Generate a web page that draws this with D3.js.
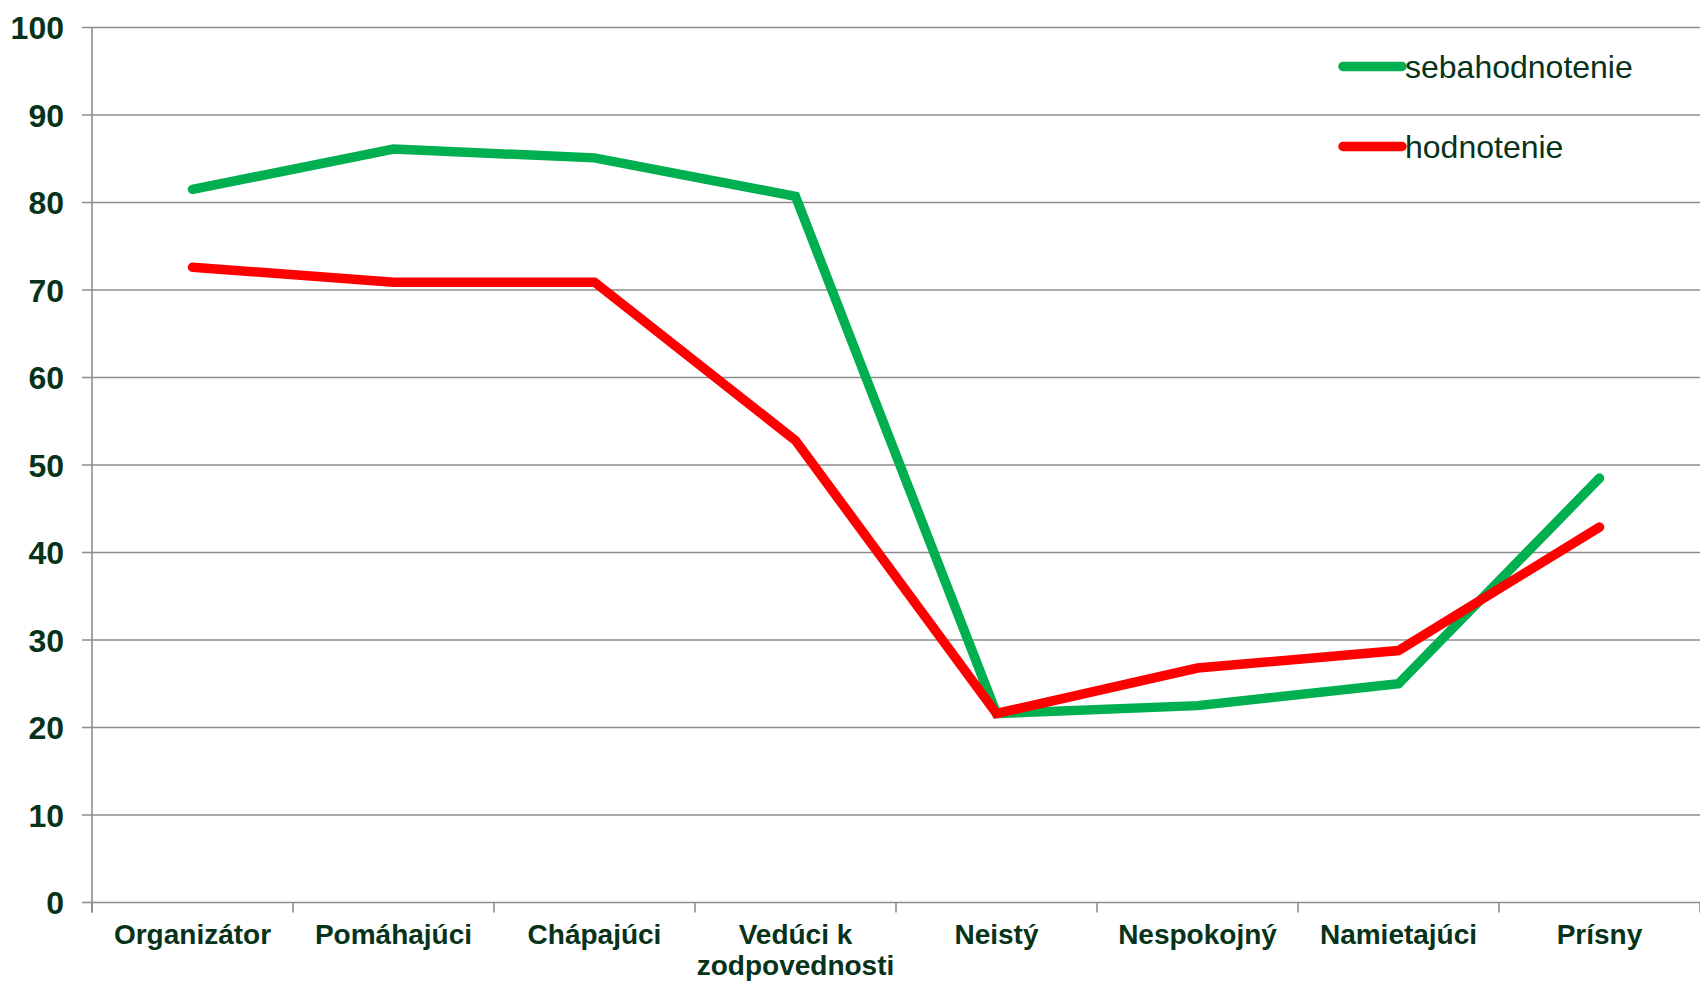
<!DOCTYPE html>
<html>
<head>
<meta charset="utf-8">
<script src="https://cdn.jsdelivr.net/npm/d3@7"></script>
<style>
  html, body { margin: 0; padding: 0; background: #fff; }
  svg { display: block; }
  text { font-family: "Liberation Sans", Arial, sans-serif; }
</style>
</head>
<body>
<svg id="chart" width="1700" height="983"></svg>
<script>
const categories = ["Organizátor", "Pomáhajúci", "Chápajúci", "Vedúci k zodpovednosti", "Neistý", "Nespokojný", "Namietajúci", "Prísny"];
const sebahodnotenie = [81.5, 86.1, 85.1, 80.7, 21.6, 22.5, 25.0, 48.5];
const hodnotenie = [72.6, 70.9, 70.9, 52.8, 21.6, 26.8, 28.8, 42.9];
const yTicks = [0, 10, 20, 30, 40, 50, 60, 70, 80, 90, 100];
const seriesNames = ["sebahodnotenie", "hodnotenie"];
const seriesColors = ["#00b050", "#ff0000"];

(function () {
const textColor = "#06331a";
const gridColor = "#8c8c8c";

const svg = d3.select("#chart");
const pLeft = 92, pRight = 1700, pTop = 27.5, pBottom = 902.5;

const x = d3.scaleBand().domain(categories).range([pLeft, pRight]).padding(0);
const y = d3.scaleLinear().domain([0, 100]).range([pBottom, pTop]);

// gridlines
svg.append("g").selectAll("line").data(yTicks).join("line")
  .attr("x1", pLeft - 10).attr("x2", pRight)
  .attr("y1", d => y(d)).attr("y2", d => y(d))
  .attr("stroke", gridColor).attr("stroke-width", 1.6);

// y axis line
svg.append("line").attr("x1", pLeft).attr("x2", pLeft).attr("y1", pTop).attr("y2", pBottom + 10)
  .attr("stroke", gridColor).attr("stroke-width", 1.6);

// x ticks
const xTickPos = categories.map(c => x(c)).concat([pRight]);
svg.append("g").selectAll("line").data(xTickPos).join("line")
  .attr("x1", d => d).attr("x2", d => d).attr("y1", pBottom).attr("y2", pBottom + 10)
  .attr("stroke", gridColor).attr("stroke-width", 1.6);

// y labels
svg.append("g").selectAll("text").data(yTicks).join("text")
  .attr("x", 64).attr("y", d => y(d)).attr("dy", "0.36em")
  .attr("text-anchor", "end")
  .attr("font-size", 32).attr("font-weight", "bold").attr("fill", textColor)
  .text(d => d);

// x labels with wrapping
const xl = svg.append("g").selectAll("text").data(categories).join("text")
  .attr("x", d => x(d) + x.bandwidth() / 2).attr("y", 944)
  .attr("text-anchor", "middle")
  .attr("font-size", 28).attr("font-weight", "bold").attr("fill", textColor);
xl.each(function (d) {
  const t = d3.select(this);
  const words = d.split(" ");
  const lines = [];
  let cur = [];
  const maxW = x.bandwidth() - 10;
  const probe = t.append("tspan");
  words.forEach(w => {
    const test = cur.concat([w]).join(" ");
    probe.text(test);
    if (probe.node().getComputedTextLength() > maxW && cur.length) {
      lines.push(cur.join(" "));
      cur = [w];
    } else cur.push(w);
  });
  lines.push(cur.join(" "));
  probe.remove();
  lines.forEach((ln, i) => {
    t.append("tspan").attr("x", x(d) + x.bandwidth() / 2).attr("dy", i === 0 ? 0 : 31).text(ln);
  });
});

// lines
const line = d3.line().x((d, i) => x(categories[i]) + x.bandwidth() / 2).y(d => y(d));
[sebahodnotenie, hodnotenie].forEach((vals, k) => {
  svg.append("path").datum(vals)
    .attr("d", line).attr("fill", "none")
    .attr("stroke", seriesColors[k]).attr("stroke-width", 9.5)
    .attr("stroke-linecap", "round").attr("stroke-linejoin", "miter");
});

// legend
const legY = [66.5, 146.5];
const lg = svg.append("g");
seriesNames.forEach((n, k) => {
  lg.append("line").attr("x1", 1343).attr("x2", 1402).attr("y1", legY[k]).attr("y2", legY[k])
    .attr("stroke", seriesColors[k]).attr("stroke-width", 9.5).attr("stroke-linecap", "round");
  lg.append("text").attr("x", 1405).attr("y", legY[k]).attr("dy", "0.35em")
    .attr("font-size", 32).attr("fill", textColor).text(n);
});
})();
</script>
</body>
</html>
